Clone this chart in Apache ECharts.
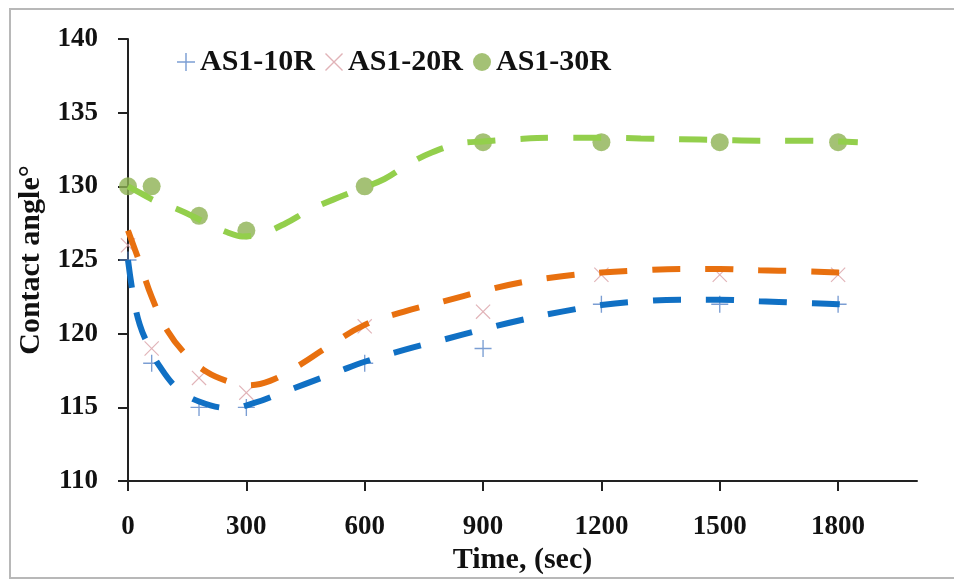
<!DOCTYPE html>
<html><head><meta charset="utf-8">
<script src="https://cdn.jsdelivr.net/npm/echarts@6/dist/echarts.min.js"></script>
<style>html,body{margin:0;padding:0;background:#fff}#c{width:954px;height:580px}</style>
</head><body><div id="c"></div>
<script>
// ---- data ----
const times = [0, 60, 180, 300, 600, 900, 1200, 1500, 1800];
const xTicks = [0, 300, 600, 900, 1200, 1500, 1800];
const yTicks = [110, 115, 120, 125, 130, 135, 140];
const seriesNames = ['AS1-10R', 'AS1-20R', 'AS1-30R'];
const as10 = [125, 118, 115, 115, 118, 119, 122, 122, 122];
const as20 = [126, 119, 117, 116, 120.5, 121.5, 124, 124, 124];
const as30 = [130, 130, 128, 127, 130, 133, 133, 133, 133];
// trend curves: [time, angle]
const trend10 = [[0,125],[15,122.3],[30,120.6],[50,119.3],[80,117.8],[125,116.3],[180,115.4],[260,114.95],[320,115.3],[390,116.0],[450,116.6],[530,117.4],[600,118.1],[700,118.9],[800,119.6],[900,120.3],[1000,120.95],[1100,121.5],[1200,121.95],[1300,122.2],[1400,122.3],[1500,122.3],[1600,122.2],[1700,122.1],[1800,122.0],[1850,121.9]];
const trend20 = [[0,127.0],[30,124.8],[60,122.5],[100,120.2],[150,118.5],[200,117.4],[250,116.8],[300,116.5],[360,116.8],[430,117.8],[500,119.0],[600,120.6],[700,121.5],[800,122.2],[900,122.9],[1000,123.5],[1100,123.9],[1200,124.15],[1300,124.3],[1400,124.4],[1500,124.4],[1600,124.3],[1700,124.25],[1800,124.15],[1850,124.05]];
const trend30 = [[0,130.0],[35,129.5],[70,129.0],[130,128.4],[200,127.5],[250,126.9],[290,126.6],[340,126.8],[400,127.5],[460,128.4],[520,129.1],[585,129.8],[650,130.5],[710,131.5],[770,132.3],[840,132.9],[900,133.05],[980,133.2],[1080,133.3],[1200,133.3],[1300,133.25],[1400,133.2],[1500,133.15],[1600,133.1],[1700,133.1],[1800,133.05],[1850,133.0]];

const FONT = 'Liberation Serif';
const plusPath = 'path://M9.2,0h1.6v20h-1.6zM0,9.2h20v1.6h-20z';
const crossPath = 'path://M0,1.1L1.1,0L20,18.9L18.9,20ZM18.9,0L20,1.1L1.1,20L0,18.9Z';

const pair = (ys) => times.map((t, i) => [t, ys[i]]);
const dashLine = (name, data, color) => ({
  name: name, type: 'line', data: data, smooth: 0.4, symbol: 'none', z: 5,
  lineStyle: { color: color, width: 6, type: [28, 25] }, silent: true, legendHoverLink: false
});
const plain = (v) => String(v);

const chart = echarts.init(document.getElementById('c'), null, { renderer: 'canvas' });
chart.setOption({
  animation: false,
  backgroundColor: '#fff',
  graphic: [{ type: 'rect', shape: { x: 10, y: 9, width: 960, height: 569 }, style: { fill: 'none', stroke: '#b8b8b8', lineWidth: 2 }, z: -1 }],
  grid: { left: 128, right: 37, top: 39, bottom: 98 },
  legend: {
    data: seriesNames, left: 172, top: 42, itemWidth: 18, itemHeight: 18, itemGap: 10,
    textStyle: { fontFamily: FONT, fontWeight: 'bold', fontSize: 30, color: '#111' }
  },
  xAxis: {
    type: 'value', min: 0, max: 2000, interval: 300,
    name: 'Time, (sec)', nameLocation: 'middle', nameGap: 62,
    nameTextStyle: { fontFamily: FONT, fontWeight: 'bold', fontSize: 30, color: '#111' },
    axisLine: { show: true, onZero: false, lineStyle: { color: '#222', width: 2 } },
    axisTick: { show: true, length: 10, customValues: xTicks, lineStyle: { color: '#222', width: 2 } },
    axisLabel: { customValues: xTicks, formatter: plain, margin: 32, fontFamily: FONT, fontWeight: 'bold', fontSize: 27, color: '#111' },
    splitLine: { show: false }
  },
  yAxis: {
    type: 'value', min: 110, max: 140, interval: 5,
    name: 'Contact angle°', nameLocation: 'middle', nameGap: 80,
    nameTextStyle: { fontFamily: FONT, fontWeight: 'bold', fontSize: 30, color: '#111' },
    axisLine: { show: true, lineStyle: { color: '#222', width: 2 } },
    axisTick: { show: true, length: 10, customValues: yTicks, lineStyle: { color: '#222', width: 2 } },
    axisLabel: { customValues: yTicks, formatter: plain, margin: 30, fontFamily: FONT, fontWeight: 'bold', fontSize: 27, color: '#111' },
    splitLine: { show: false }
  },
  series: [
    { name: seriesNames[0], type: 'scatter', data: pair(as10), symbol: plusPath, symbolSize: 17, z: 3,
      itemStyle: { color: '#5a86c8' } },
    { name: seriesNames[1], type: 'scatter', data: pair(as20), symbol: crossPath, symbolSize: 15, z: 3,
      itemStyle: { color: '#d9a0a6' } },
    { name: seriesNames[2], type: 'scatter', data: pair(as30), symbol: 'circle', symbolSize: 18, z: 3,
      itemStyle: { color: '#8db152' } },
    dashLine('trend10', trend10, '#1070c4'),
    dashLine('trend20', trend20, '#e8700f'),
    dashLine('trend30', trend30, '#93cf4c')
  ]
});
</script></body></html>
